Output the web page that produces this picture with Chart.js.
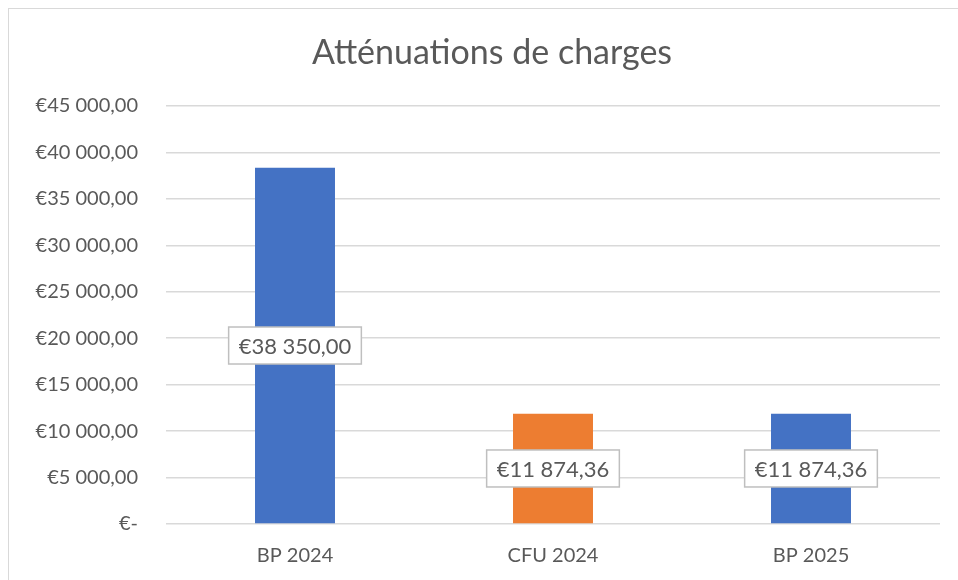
<!DOCTYPE html>
<html>
<head>
<meta charset="utf-8">
<script src="https://cdn.jsdelivr.net/npm/chart.js@4.4.0/dist/chart.umd.min.js"></script>
<style>
  html, body { margin: 0; padding: 0; background: #fff; }
  #wrap { position: relative; width: 958px; height: 580px; }
  #frame { position: absolute; left: 8px; top: 8px; right: -2px; bottom: -2px; border: 1px solid #d9d9d9; }
  canvas { position: absolute; left: 0; top: 0; }
</style>
</head>
<body>
<div id="wrap">
  <div id="frame"></div>
  <canvas id="myChart" width="958" height="580"></canvas>
</div>
<script>
// données du graphique
const categories = ["BP 2024", "CFU 2024", "BP 2025"];
const montants = [38350, 11874.36, 11874.36];
const couleurs = ["#4472C4", "#ED7D31", "#4472C4"];
const yMax = 45000;
const yStep = 5000;
const titre = "Atténuations de charges";

const textColor = "#595959";
const fontFamily = "Lato, 'Open Sans', sans-serif";

// format type Excel : €45 000,00
function euro(v) {
  if (v === 0) return "€-";
  const parts = v.toFixed(2).split(".");
  const ent = parts[0].replace(/\B(?=(\d{3})+(?!\d))/g, " ");
  return "€" + ent + "," + parts[1];
}

// titre centré sur tout le cadre (pas seulement sur la zone du graphe)
const titrePlugin = {
  id: "titreCadre",
  afterDraw(chart) {
    const ctx = chart.ctx;
    ctx.save();
    ctx.font = "34px " + fontFamily;
    ctx.fillStyle = textColor;
    ctx.textAlign = "center";
    ctx.textBaseline = "middle";
    ctx.fillText(titre, 492, 53);
    ctx.restore();
  }
};

// étiquettes de données encadrées au milieu des barres
const labelsPlugin = {
  id: "boxLabels",
  afterDatasetsDraw(chart) {
    const ctx = chart.ctx;
    const meta = chart.getDatasetMeta(0);
    ctx.save();
    ctx.font = "22px " + fontFamily;
    ctx.textAlign = "center";
    ctx.textBaseline = "middle";
    meta.data.forEach((bar, i) => {
      const txt = euro(montants[i]);
      const cx = bar.x;
      const cy = (bar.y + bar.base) / 2;
      const w = ctx.measureText(txt).width + 20;
      const h = 37;
      ctx.fillStyle = "#fff";
      ctx.fillRect(cx - w / 2, cy - h / 2, w, h);
      ctx.strokeStyle = "#bfbfbf";
      ctx.lineWidth = 1.5;
      ctx.strokeRect(cx - w / 2, cy - h / 2, w, h);
      ctx.fillStyle = textColor;
      ctx.fillText(txt, cx, cy + 1);
    });
    ctx.restore();
  }
};

const ctx = document.getElementById("myChart").getContext("2d");
const myChart = new Chart(ctx, {
  type: "bar",
  data: {
    labels: categories,
    datasets: [{
      data: montants,
      backgroundColor: couleurs,
      barPercentage: 0.62,
      categoryPercentage: 0.5
    }]
  },
  options: {
    responsive: false,
    animation: false,
    layout: { padding: { left: 0, right: 18, top: 106, bottom: 0 } },
    plugins: {
      legend: { display: false },
      tooltip: { enabled: false },
      title: { display: false }
    },
    scales: {
      x: {
        grid: { display: false },
        border: { display: false },
        ticks: { color: textColor, font: { family: fontFamily, size: 20 }, padding: 12 },
        afterFit(scale) { scale.height = 56; }
      },
      y: {
        min: 0,
        max: yMax,
        grid: { color: "#d9d9d9", lineWidth: 1.5, drawTicks: false },
        border: { display: false },
        ticks: {
          stepSize: yStep,
          color: textColor,
          padding: 28,
          font: { family: fontFamily, size: 20 },
          callback: (v) => euro(v)
        },
        afterFit(scale) { scale.width = 166; }
      }
    }
  },
  plugins: [labelsPlugin, titrePlugin]
});
</script>
</body>
</html>
